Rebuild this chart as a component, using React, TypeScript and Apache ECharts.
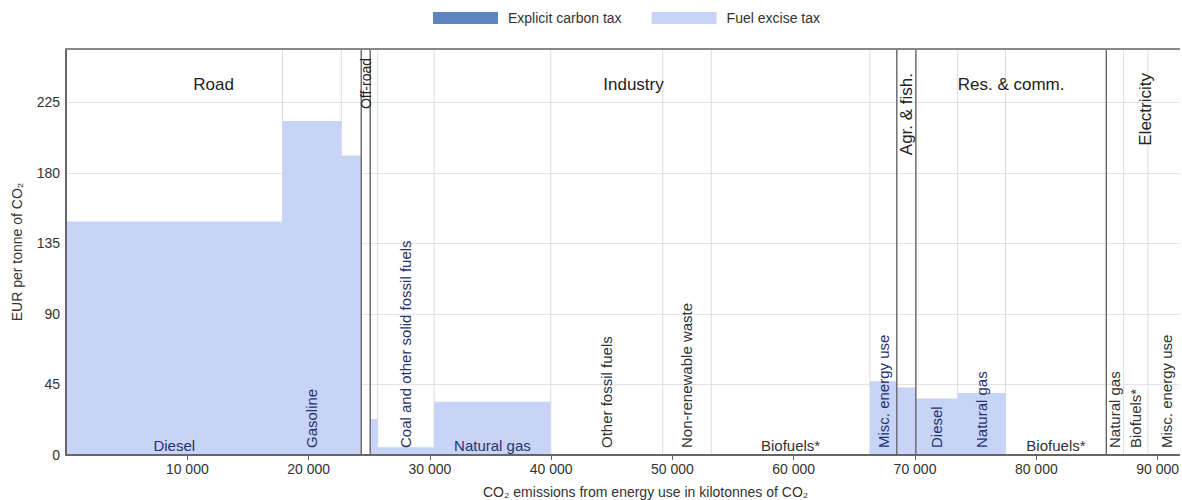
import { useEffect, useRef } from "react";
import * as echarts from "echarts";

// ---------- data ----------
const sectorNames = ["Road", "Off-road", "Industry", "Agr. & fish.", "Res. & comm.", "Electricity"];
// sector index of each fuel segment
const segmentSector = [0, 0, 0, 1, 2, 2, 2, 2, 2, 2, 2, 3, 4, 4, 4, 5, 5, 5];
const fuelNames = [
  "Diesel", "Gasoline", "", "", "", "Coal and other solid fossil fuels", "Natural gas",
  "Other fossil fuels", "Non-renewable waste", "Biofuels*", "Misc. energy use", "",
  "Diesel", "Natural gas", "Biofuels*", "Natural gas", "Biofuels*", "Misc. energy use",
];
// CO2 emissions from energy use, kilotonnes (segment widths)
const emissionsKt = [17850, 4850, 1640, 740, 620, 4650, 9620, 9230, 4000, 13080, 2220, 1570, 3450, 3950, 8300, 1430, 2000, 3000];
// EUR per tonne of CO2
const fuelExciseTax = [149, 213, 191, 0, 23, 5, 34, 0, 0, 0, 47, 43, 36, 39.5, 0, 0, 0, 0];
const explicitCarbonTax = [0, 0, 0, 0, 0, 0, 0, 0, 0, 0, 0, 0, 0, 0, 0, 0, 0, 0];
const seriesNames = ["Explicit carbon tax", "Fuel excise tax"];
const xAxisTitle = "CO\u2082 emissions from energy use in kilotonnes of CO\u2082";
const yAxisTitle = "EUR per tonne of CO\u2082";

// ---------- styles ----------
const FONT = "'Liberation Sans', Arial, Helvetica, sans-serif";
const EXCISE_COLOR = "#c7d3f7";
const CARBON_COLOR = "#5f84c2";
const X_MAX = 91780;
const Y_MAX = 259;
const sectorRotated = [false, true, false, true, false, true];
const sectorTopOffset = [35, 9, 35, 24, 35, 24];
const sectorFontSize = [17, 14, 17, 17, 17, 17];

export default function App() {
  const ref = useRef<HTMLDivElement>(null);

  useEffect(() => {
    if (!ref.current) return;
    const chart = echarts.init(ref.current, undefined, { renderer: "svg" });

    const starts: number[] = [];
    let acc = 0;
    emissionsKt.forEach((w) => {
      starts.push(acc);
      acc += w;
    });
    const segData = emissionsKt.map((w, i) => [starts[i], starts[i] + w, fuelExciseTax[i], explicitCarbonTax[i], i]);
    const boundaryData = starts.slice(1).map((s) => [s]);
    const sectorData = sectorNames.map((_, s) => {
      const idx = segmentSector.map((v, i) => (v === s ? i : -1)).filter((i) => i >= 0);
      const a = starts[idx[0]];
      const last = idx[idx.length - 1];
      return [a, starts[last] + emissionsKt[last], s];
    });
    const dividerData = sectorData.slice(0, -1).map((d) => [d[1]]);

    const option: any = {
      animation: false,
      textStyle: { fontFamily: FONT },
      legend: {
        left: 428,
        top: 6,
        itemWidth: 65,
        itemHeight: 12,
        itemGap: 30,
        icon: "rect",
        textStyle: { fontSize: 14, color: "#333", fontFamily: FONT, padding: [0, 0, 0, 5] },
        data: seriesNames,
      },
      grid: { left: 66, right: 0, top: 49, bottom: 45, containLabel: false },
      xAxis: [
        {
          type: "value",
          min: 0,
          max: X_MAX,
          interval: 10000,
          z: 10,
          axisLine: { show: true, onZero: false, lineStyle: { color: "#666", width: 2 } },
          axisTick: { show: true, length: 5, lineStyle: { color: "#666" } },
          axisLabel: {
            fontSize: 14,
            color: "#333",
            margin: 7,
            fontFamily: FONT,
            showMinLabel: false,
            showMaxLabel: false,
            formatter: (v: number) => String(v).replace(/\B(?=(\d{3})+(?!\d))/g, " "),
          },
          splitLine: { show: false },
        },
        {
          type: "value",
          position: "top",
          min: 0,
          max: X_MAX,
          interval: 10000,
          z: 10,
          axisLine: { show: true, onZero: false, lineStyle: { color: "#888", width: 2 } },
          axisTick: { show: false },
          axisLabel: { show: false },
          splitLine: { show: false },
        },
      ],
      yAxis: [
        {
          type: "value",
          min: 0,
          max: Y_MAX,
          interval: 45,
          z: 10,
          name: yAxisTitle,
          nameLocation: "middle",
          nameGap: 42,
          nameTextStyle: { fontSize: 14, color: "#333", fontFamily: FONT },
          axisLine: { show: true, onZero: false, lineStyle: { color: "#666", width: 2 } },
          axisTick: { show: false },
          axisLabel: { fontSize: 14, color: "#333", margin: 6, fontFamily: FONT, showMaxLabel: false },
          splitLine: { show: false },
        },
        {
          type: "value",
          min: 0,
          max: Y_MAX,
          interval: 45,
          z: 0,
          position: "right",
          axisLine: { show: false },
          axisTick: { show: false },
          axisLabel: { show: false },
          splitLine: { show: true, lineStyle: { color: "#e4e4e4", width: 1 } },
        },
      ],
      graphic: [
        {
          type: "text",
          left: 483,
          top: 485,
          style: { text: xAxisTitle, fontSize: 14, fill: "#333", fontFamily: FONT },
        },
      ],
      series: [
        {
          type: "custom",
          name: "boundaries",
          z: 1,
          silent: true,
          data: boundaryData,
          renderItem: (params: any, api: any) => {
            const cs = params.coordSys;
            const x = api.coord([api.value(0), 0])[0];
            return {
              type: "line",
              shape: { x1: x, y1: cs.y, x2: x, y2: cs.y + cs.height },
              style: { stroke: "#dcdcdc", lineWidth: 1 },
            };
          },
        },
        {
          type: "custom",
          name: seriesNames[1],
          z: 2,
          clip: true,
          itemStyle: { color: EXCISE_COLOR },
          data: segData,
          renderItem: (_p: any, api: any) => {
            const p0 = api.coord([api.value(0), 0]);
            const p1 = api.coord([api.value(1), api.value(2)]);
            return {
              type: "rect",
              shape: { x: p0[0], y: p1[1], width: p1[0] - p0[0], height: p0[1] - p1[1] },
              style: { fill: EXCISE_COLOR },
            };
          },
        },
        {
          type: "custom",
          name: seriesNames[0],
          z: 2,
          clip: true,
          itemStyle: { color: CARBON_COLOR },
          data: segData,
          renderItem: (_p: any, api: any) => {
            const base = api.value(2);
            const top = base + api.value(3);
            const p0 = api.coord([api.value(0), base]);
            const p1 = api.coord([api.value(1), top]);
            return {
              type: "rect",
              shape: { x: p0[0], y: p1[1], width: p1[0] - p0[0], height: p0[1] - p1[1] },
              style: { fill: CARBON_COLOR },
            };
          },
        },
        {
          type: "custom",
          name: "dividers",
          z: 3,
          silent: true,
          data: dividerData,
          renderItem: (params: any, api: any) => {
            const cs = params.coordSys;
            const x = api.coord([api.value(0), 0])[0];
            return {
              type: "line",
              shape: { x1: x, y1: cs.y, x2: x, y2: cs.y + cs.height },
              style: { stroke: "#555", lineWidth: 1.2 },
            };
          },
        },
        {
          type: "custom",
          name: "fuelLabels",
          z: 4,
          silent: true,
          data: segData,
          renderItem: (params: any, api: any) => {
            const i = api.value(4);
            const text = fuelNames[i];
            if (!text) return null;
            const cs = params.coordSys;
            const xa = api.coord([api.value(0), 0])[0];
            const xb = api.coord([api.value(1), 0])[0];
            const cx = (xa + xb) / 2;
            const bottom = cs.y + cs.height;
            const fill = api.value(2) > 0 ? "#24346f" : "#333";
            const fits = text.length * 8 + 10 < xb - xa;
            if (fits) {
              return {
                type: "text",
                x: cx,
                y: bottom - 10,
                style: { text, align: "center", verticalAlign: "middle", fontSize: 15, fontFamily: FONT, fill },
              };
            }
            return {
              type: "text",
              x: cx,
              y: bottom - 7,
              rotation: Math.PI / 2,
              style: { text, align: "left", verticalAlign: "middle", fontSize: 15, fontFamily: FONT, fill },
            };
          },
        },
        {
          type: "custom",
          name: "sectorLabels",
          z: 4,
          silent: true,
          data: sectorData,
          renderItem: (params: any, api: any) => {
            const s = api.value(2);
            const cs = params.coordSys;
            const cx = (api.coord([api.value(0), 0])[0] + api.coord([api.value(1), 0])[0]) / 2;
            if (sectorRotated[s]) {
              return {
                type: "text",
                x: cx,
                y: cs.y + sectorTopOffset[s],
                rotation: Math.PI / 2,
                style: {
                  text: sectorNames[s],
                  align: "right",
                  verticalAlign: "middle",
                  fontSize: sectorFontSize[s],
                  fontFamily: FONT,
                  fill: "#222",
                },
              };
            }
            return {
              type: "text",
              x: cx,
              y: cs.y + sectorTopOffset[s],
              style: {
                text: sectorNames[s],
                align: "center",
                verticalAlign: "middle",
                fontSize: sectorFontSize[s],
                fontFamily: FONT,
                fill: "#222",
              },
            };
          },
        },
      ],
    };

    chart.setOption(option);
    return () => chart.dispose();
  }, []);

  return (
    <div
      ref={ref}
      style={{ position: "absolute", left: 0, top: 0, width: 1182, height: 500, background: "#fff" }}
    />
  );
}
